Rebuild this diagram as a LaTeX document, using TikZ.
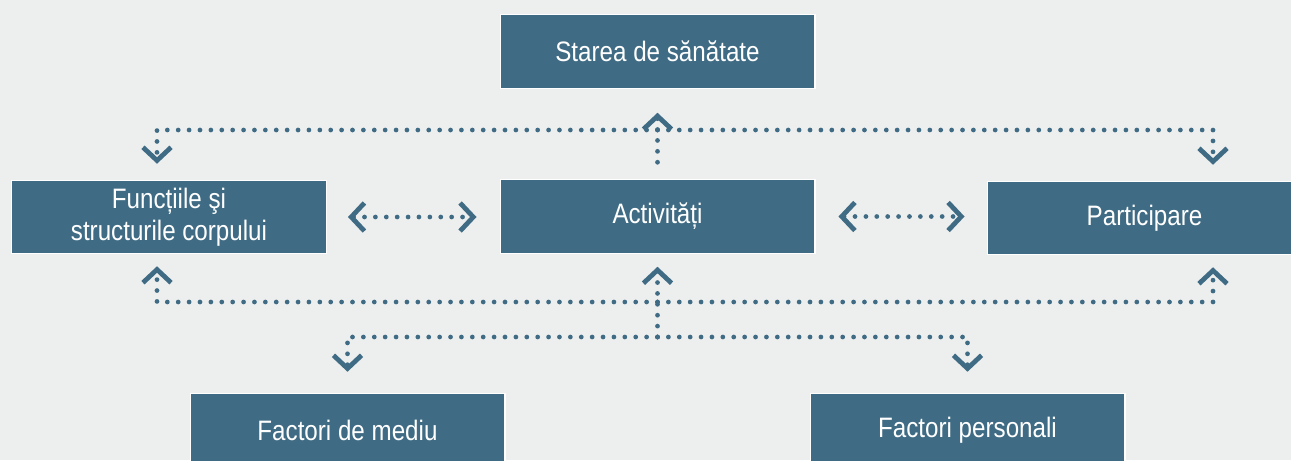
\documentclass[tikz,border=0pt]{standalone}
\usepackage{fontspec}
\setmainfont{Liberation Sans}[FakeStretch=0.86]
\usetikzlibrary{arrows.meta}

\definecolor{boxblue}{RGB}{63,108,132}
\definecolor{bggray}{RGB}{237,238,238}

\tikzset{
  box/.style={draw=white, line width=0.6pt, fill=boxblue, text=white, minimum width=6.3cm, minimum height=1.47cm, inner sep=0pt, align=center, font=\fontsize{16}{18.2}\selectfont},
  link/.style={boxblue, line width=2.7pt, line cap=round, dash pattern=on 0pt off 6.2pt},
  barb/.style={-{Straight Barb[length=7.5pt,width=16pt]}},
  dbarb/.style={{Straight Barb[length=7.5pt,width=16pt]}-{Straight Barb[length=7.5pt,width=16pt]}}
}

\begin{document}
\begin{tikzpicture}[x=0.02cm,y=-0.02cm]

\fill[bggray] (0,0) rectangle (1291,460);
\useasboundingbox (0,0) rectangle (1291,460);

\node[box] (health) at (657.5,51.5) {Starea de sănătate};
\node[box] (body) at (169,217) {Funcțiile şi\\structurile corpului};
\node[box] (act) at (657.5,216.5) {Activități};
\node[box] (part) at (1144.5,218) {Participare};
\node[box] (env) at (347.5,430) {Factori de mediu};
\node[box] (pers) at (967.5,430) {Factori personali};

\coordinate (topmid) at (657.5,130);
\coordinate (topleft) at (157,130);
\coordinate (topright) at (1213,130);
\coordinate (lowmid) at (657.5,302);
\coordinate (lowleft) at (157,302);
\coordinate (lowright) at (1213,302);
\coordinate (forkmid) at (657.5,337);
\coordinate (forkleft) at (347.5,337);
\coordinate (forkright) at (967.5,337);

% upper bus
\draw[link,barb,shorten <=0.34cm,shorten >=0.48cm] (act.north) -- (health.south);
\draw[link,barb,shorten >=0.32cm] (topmid) -- (topleft) -- (topleft |- body.north);
\draw[link,barb,shorten >=0.32cm] (topmid) -- (topright) -- (topright |- part.north);

% middle row
\draw[link,dbarb,shorten <=0.42cm,shorten >=0.46cm] (body.east) -- (body.east -| act.west);
\draw[link,dbarb,shorten <=0.46cm,shorten >=0.44cm] (act.east) -- (act.east -| part.west);

% lower bus
\draw[link,barb,shorten >=0.24cm] (lowmid) -- (lowleft) -- (lowleft |- body.south);
\draw[link,barb,shorten >=0.24cm] (lowmid) -- (lowright) -- (lowright |- part.south);
\draw[link,barb,shorten >=0.26cm] (forkmid) -- (act.south);
\foreach \corner/\target in {forkleft/env, forkright/pers}
  \draw[link,barb,shorten >=0.42cm] (forkmid) -- (\corner) -- (\target.north);

\end{tikzpicture}
\end{document}
